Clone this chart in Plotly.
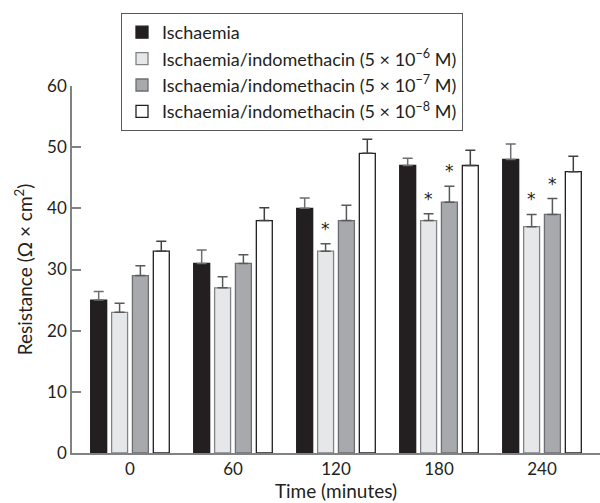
import plotly.graph_objects as go

times = ["0", "60", "120", "180", "240"]
series_names = [
    "Ischaemia",
    "Ischaemia/indomethacin (5 × 10<sup>−6</sup> M)",
    "Ischaemia/indomethacin (5 × 10<sup>−7</sup> M)",
    "Ischaemia/indomethacin (5 × 10<sup>−8</sup> M)",
]
ischaemia = [25.0, 31.0, 40.0, 47.0, 48.0]
indo_6 = [23.0, 27.0, 33.0, 38.0, 37.0]
indo_7 = [29.0, 31.0, 38.0, 41.0, 39.0]
indo_8 = [33.0, 38.0, 49.0, 47.0, 46.0]
err_ischaemia = [1.4, 2.2, 1.7, 1.2, 2.5]
err_indo_6 = [1.5, 1.8, 1.2, 1.1, 2.0]
err_indo_7 = [1.6, 1.4, 2.5, 2.6, 2.6]
err_indo_8 = [1.6, 2.1, 2.3, 2.5, 2.5]
# significance markers: (time index, series index)
stars = [(2, 1), (3, 1), (3, 2), (4, 1), (4, 2)]

values = [ischaemia, indo_6, indo_7, indo_8]
errors = [err_ischaemia, err_indo_6, err_indo_7, err_indo_8]
fills = ["#231f20", "#e6e7e8", "#a7a9ac", "#ffffff"]
outlines = ["#231f20", "#808285", "#6d6e71", "#231f20"]
err_colors = ["#6d6e71", "#58595b", "#58595b", "#414042"]

FONT = "Lato"
TXT = "#231f20"
width = 0.155
centers = [-0.304, -0.101, 0.101, 0.304]
xs = list(range(len(times)))

fig = go.Figure()
for i in range(4):
    fig.add_trace(go.Bar(
        x=xs, y=values[i], name=series_names[i], legendgroup=f"g{i}",
        width=width, offset=centers[i] - width / 2,
        marker=dict(color=fills[i], line=dict(color=outlines[i], width=1.3)),
        error_y=dict(type="data", array=errors[i], arrayminus=[0] * len(times),
                     symmetric=False, color=err_colors[i], thickness=1.5, width=5),
    ))

for ti, si in stars:
    fig.add_annotation(x=xs[ti] + centers[si], y=values[si][ti] + errors[si][ti],
                       text="*", showarrow=False, yanchor="bottom", yshift=3,
                       font=dict(family="DejaVu Sans", size=17, color=TXT))

fig.update_layout(
    width=600, height=503,
    margin=dict(l=72, r=0, t=86, b=50, autoexpand=False),
    paper_bgcolor="white", plot_bgcolor="white",
    barmode="overlay",
    font=dict(family=FONT, size=18, color=TXT),
    showlegend=True,
    legend=dict(x=(121 - 72) / 528, xanchor="left", y=(453 - 13) / 367,
                yanchor="top", bordercolor="#58595b", borderwidth=1,
                bgcolor="white", font=dict(family=FONT, size=18, color=TXT),
                tracegroupgap=0, itemclick=False),
    xaxis=dict(range=[-0.563, 4.563], tickvals=xs, ticktext=times,
               showline=True, linecolor="#808285", linewidth=1.5,
               ticks="", showgrid=False, zeroline=False,
               title=dict(text="Time (minutes)", standoff=5,
                          font=dict(size=19)),
               tickfont=dict(size=17)),
    yaxis=dict(range=[0, 60], tickvals=[0, 10, 20, 30, 40, 50, 60],
               showline=True, linecolor="#808285", linewidth=1.5,
               ticks="inside", ticklen=9, tickcolor="#808285", tickwidth=1.5,
               showgrid=False, zeroline=False,
               title=dict(text="Resistance (Ω × cm<sup>2</sup>)", standoff=9,
                          font=dict(size=19)),
               tickfont=dict(size=17)),
)

fig.write_html("out.html", config={"displayModeBar": False},
               post_script="document.body.style.margin='0';")
